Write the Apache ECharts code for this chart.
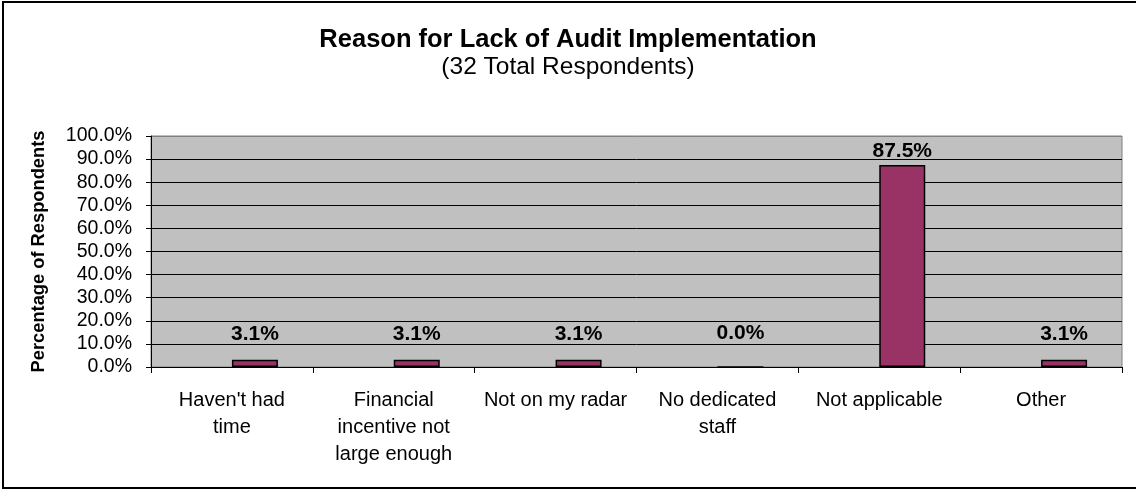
<!DOCTYPE html>
<html>
<head>
<meta charset="utf-8">
<script src="https://cdn.jsdelivr.net/npm/echarts@6/dist/echarts.min.js"></script>
<style>
  html, body { margin: 0; padding: 0; background: #fff; }
  #chart { width: 1136px; height: 490px; }
</style>
</head>
<body>
<div id="chart"></div>
<script>
// Survey categories (axis labels, wrapped as printed)
const categories = [
  "Haven't had\ntime",
  "Financial\nincentive not\nlarge enough",
  "Not on my radar",
  "No dedicated\nstaff",
  "Not applicable",
  "Other"
];
// Share of respondents, percent
const percentValues = [3.1, 3.1, 3.1, 0.0, 87.5, 3.1];
// Placeholder series that reserves the left half of each category slot
const emptySeries = [null, null, null, null, null, null];

const FONT = "'Liberation Sans', Arial, Helvetica, sans-serif";

// Label gap above each bar
function labelGap(v) {
  if (v >= 50) return 3;
  if (v === 0) return 23;
  return 15;
}

const gridLineColors = [];
for (let i = 0; i < 10; i++) gridLineColors.push('#000000');
gridLineColors.push('#808080');

const chart = echarts.init(document.getElementById('chart'), null, { renderer: 'canvas' });

chart.setOption({
  animation: false,
  backgroundColor: '#ffffff',
  textStyle: { fontFamily: FONT },
  title: {
    text: 'Reason for Lack of Audit Implementation',
    subtext: '(32 Total Respondents)',
    left: 'center',
    top: 22,
    itemGap: 2,
    textStyle: { fontFamily: FONT, fontSize: 25.5, fontWeight: 'bold', color: '#000' },
    subtextStyle: { fontFamily: FONT, fontSize: 24.5, color: '#000' }
  },
  graphic: [{
    type: 'rect',
    shape: { x: 3, y: 2, width: 1135, height: 486 },
    style: { fill: 'none', stroke: '#000', lineWidth: 2 },
    silent: true,
    z: 100
  }],
  grid: {
    left: 151,
    right: 14,
    top: 136,
    bottom: 123,
    show: true,
    backgroundColor: '#C0C0C0',
    borderColor: '#808080',
    borderWidth: 1
  },
  xAxis: {
    type: 'category',
    data: categories,
    axisLine: { lineStyle: { color: '#000', width: 1 } },
    axisTick: { show: true, length: 6, lineStyle: { color: '#000' } },
    axisLabel: {
      color: '#000',
      fontFamily: FONT,
      fontSize: 20,
      lineHeight: 27,
      margin: 20,
      verticalAlign: 'top',
      interval: 0
    },
    splitLine: { show: false }
  },
  yAxis: {
    type: 'value',
    min: 0,
    max: 100,
    interval: 10,
    name: 'Percentage of Respondents',
    nameLocation: 'middle',
    nameGap: 103,
    nameRotate: 90,
    nameTextStyle: { fontFamily: FONT, fontSize: 18.3, fontWeight: 'bold', color: '#000' },
    axisLine: { show: true, lineStyle: { color: '#000', width: 1 } },
    axisTick: { show: true, length: 5, lineStyle: { color: '#000' } },
    axisLabel: {
      color: '#000',
      fontFamily: FONT,
      fontSize: 19.5,
      margin: 19,
      formatter: v => v.toFixed(1) + '%'
    },
    splitLine: { show: true, lineStyle: { color: gridLineColors, width: 1 } }
  },
  series: [
    {
      type: 'bar',
      data: emptySeries,
      barWidth: 46,
      barGap: '0%',
      itemStyle: { color: '#993366' }
    },
    {
      type: 'bar',
      data: percentValues.map(v => ({
        value: v,
        label: { distance: labelGap(v) }
      })),
      barWidth: 46,
      barGap: '0%',
      itemStyle: { color: '#993366', borderColor: '#000', borderWidth: 1.5 },
      label: {
        show: true,
        position: 'top',
        fontFamily: FONT,
        fontSize: 21,
        fontWeight: 'bold',
        color: '#000',
        formatter: p => p.value.toFixed(1) + '%'
      }
    }
  ]
});
</script>
</body>
</html>
